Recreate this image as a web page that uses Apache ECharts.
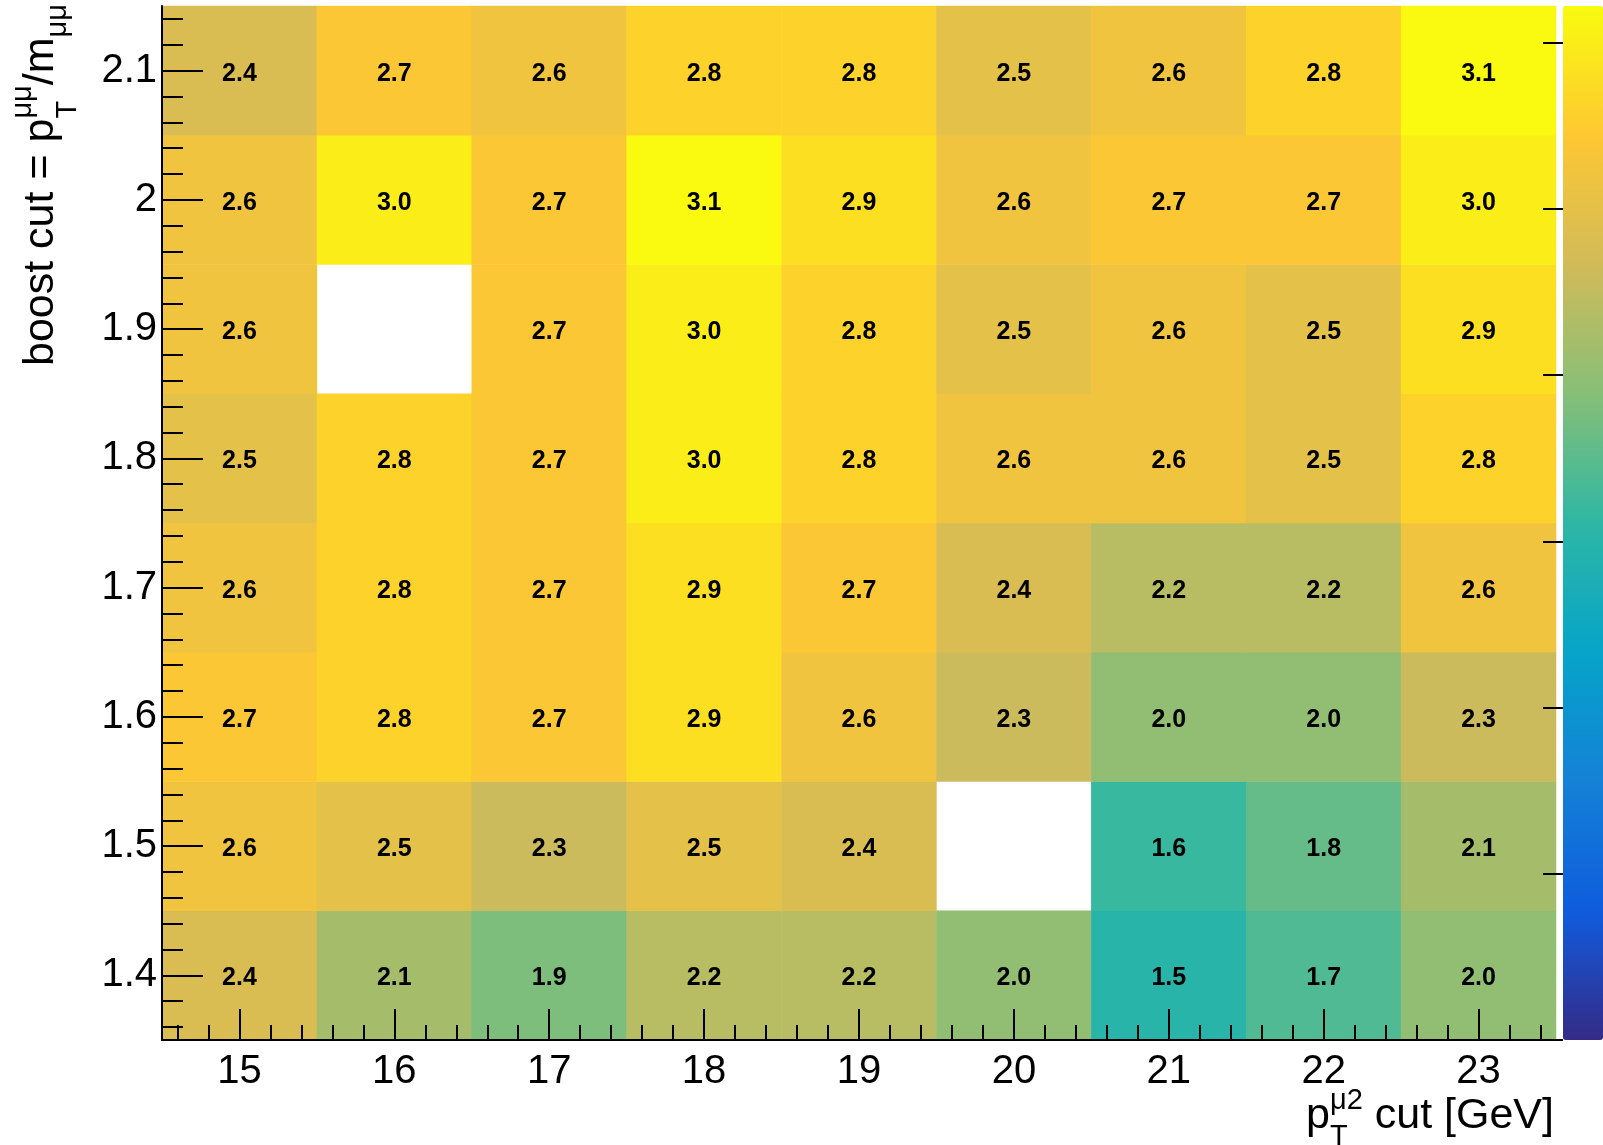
<!DOCTYPE html>
<html><head><meta charset="utf-8">
<script src="https://cdn.jsdelivr.net/npm/echarts@6/dist/echarts.min.js"></script>
<style>html,body{margin:0;padding:0;background:#fff}#c{width:1603px;height:1145px}</style>
</head><body><div id="c"></div>
<script>
// ---- data ----
const xCategories = ['15','16','17','18','19','20','21','22','23'];
const yCategories = ['1.4','1.5','1.6','1.7','1.8','1.9','2','2.1'];
// rows from bottom (boost 1.4) to top (boost 2.1); null = empty bin
const row14 = [2.4, 2.1, 1.9, 2.2, 2.2, 2.0, 1.5, 1.7, 2.0];
const row15 = [2.6, 2.5, 2.3, 2.5, 2.4, null, 1.6, 1.8, 2.1];
const row16 = [2.7, 2.8, 2.7, 2.9, 2.6, 2.3, 2.0, 2.0, 2.3];
const row17 = [2.6, 2.8, 2.7, 2.9, 2.7, 2.4, 2.2, 2.2, 2.6];
const row18 = [2.5, 2.8, 2.7, 3.0, 2.8, 2.6, 2.6, 2.5, 2.8];
const row19 = [2.6, null, 2.7, 3.0, 2.8, 2.5, 2.6, 2.5, 2.9];
const row20 = [2.6, 3.0, 2.7, 3.1, 2.9, 2.6, 2.7, 2.7, 3.0];
const row21 = [2.4, 2.7, 2.6, 2.8, 2.8, 2.5, 2.6, 2.8, 3.1];
const rows = [row14, row15, row16, row17, row18, row19, row20, row21];
const zMin = 0, zMax = 3.11;
const paletteTickValues = [0, 0.5, 1, 1.5, 2, 2.5, 3];
// ROOT kBird palette stops
const birdPalette = ['#352a87','#0f5cdd','#1481d6','#06a4ca','#2eb7a4','#87bf77','#d1bb59','#fec832','#f9fb0e'];

// fine tick grids (0.2 GeV steps on x, 0.02 steps on y)
const xTickCats = []; for (let i = 0; i < 45; i++) xTickCats.push(String((146 + 2 * i) / 10));
const yTickCats = []; for (let i = 0; i < 40; i++) yTickCats.push(String((136 + 2 * i) / 100));
const xMajor = (i, v) => Number.isInteger(Number(v));
const yMajor = (i, v) => Math.round(Number(v) * 100) % 10 === 0;

const heatData = [];
rows.forEach((r, yi) => r.forEach((v, xi) => { if (v !== null) heatData.push([xi, yi, v]); }));

// ---- text helpers for titles with sub/superscripts ----
const FONT = '"Liberation Sans", Arial, Helvetica, sans-serif';
const mctx = document.createElement('canvas').getContext('2d');
function tw(t, size) { mctx.font = size + 'px ' + FONT; return mctx.measureText(t).width; }
function mk(t, size, x, base) {
  return { type: 'text', x: x, y: base - 0.3465 * size,
    style: { text: t, font: size + 'px ' + FONT, fill: '#000', align: 'left', verticalAlign: 'middle' } };
}
function buildRich(parts) {
  let x = 0; const els = [];
  parts.forEach(p => {
    if (p.stack) {
      let w = 0;
      p.stack.forEach(s => { els.push(mk(s.t, s.size, x, s.dy)); w = Math.max(w, tw(s.t, s.size)); });
      x += w;
    } else { els.push(mk(p.t, p.size, x, p.dy || 0)); x += tw(p.t, p.size); }
  });
  return { els, width: x };
}
const TF = 43, SF = 29;
const xTitle = buildRich([
  { t: 'p', size: TF },
  { stack: [{ t: '\u03bc2', size: SF, dy: -20 }, { t: 'T', size: SF, dy: 16 }] },
  { t: ' cut [GeV]', size: TF }
]);
const yTitle = buildRich([
  { t: 'boost cut = p', size: TF },
  { stack: [{ t: '\u03bc\u03bc', size: SF, dy: -23 }, { t: 'T', size: SF, dy: 22 }] },
  { t: '/m', size: TF },
  { t: '\u03bc\u03bc', size: SF, dy: 12 }
]);

const G = { left: 162, top: 6, width: 1394, height: 1034 };
const barTop = 6, barH = 1034;
const chart = echarts.init(document.getElementById('c'), null, { renderer: 'canvas' });
const tickLine = { color: '#000', width: 2 };
chart.setOption({
  animation: false,
  backgroundColor: '#fff',
  grid: [
    Object.assign({}, G),
    Object.assign({}, G),
    Object.assign({}, G),
    { left: 1563, top: barTop, width: 40, height: barH }
  ],
  xAxis: [
    { gridIndex: 0, type: 'category', data: xCategories, show: false },
    { gridIndex: 1, type: 'category', data: xTickCats, position: 'bottom', z: 10,
      axisLine: { show: true, lineStyle: tickLine },
      axisTick: { show: true, inside: true, alignWithLabel: true, length: 31, interval: xMajor, lineStyle: tickLine },
      axisLabel: { show: true, interval: xMajor, margin: 12, fontSize: 40, color: '#000', fontFamily: FONT },
      splitLine: { show: false } },
    { gridIndex: 2, type: 'category', data: xTickCats, position: 'bottom', z: 10,
      axisLine: { show: false },
      axisTick: { show: true, inside: true, alignWithLabel: true, length: 15, interval: 0, lineStyle: tickLine },
      axisLabel: { show: false }, splitLine: { show: false } },
    { gridIndex: 3, type: 'value', show: false, min: 0, max: 1 }
  ],
  yAxis: [
    { gridIndex: 0, type: 'category', data: yCategories, show: false },
    { gridIndex: 1, type: 'category', data: yTickCats, position: 'left', z: 10,
      axisLine: { show: true, lineStyle: tickLine },
      axisTick: { show: true, inside: true, alignWithLabel: true, length: 41, interval: yMajor, lineStyle: tickLine },
      axisLabel: { show: true, interval: yMajor, margin: 5, fontSize: 40, color: '#000', fontFamily: FONT },
      splitLine: { show: false } },
    { gridIndex: 2, type: 'category', data: yTickCats, position: 'left', z: 10,
      axisLine: { show: false },
      axisTick: { show: true, inside: true, alignWithLabel: true, length: 21, interval: 0, lineStyle: tickLine },
      axisLabel: { show: false }, splitLine: { show: false } },
    { gridIndex: 3, type: 'value', min: zMin, max: zMax, position: 'right', z: 10,
      axisLine: { show: false },
      axisTick: { show: true, inside: true, length: 20, lineStyle: tickLine, customValues: paletteTickValues },
      axisLabel: { show: false, customValues: paletteTickValues }, splitLine: { show: false } }
  ],
  visualMap: {
    type: 'continuous', seriesIndex: 0, min: zMin, max: zMax, calculable: false, hoverLink: false,
    orient: 'vertical', left: 1563, top: barTop, itemWidth: 40, itemHeight: barH, padding: 0,
    inRange: { color: birdPalette }
  },
  series: [{
    type: 'heatmap', xAxisIndex: 0, yAxisIndex: 0, data: heatData,
    label: { show: true, color: '#000', fontWeight: 'bold', fontSize: 25, fontFamily: FONT, offset: [0, 3],
      formatter: p => p.value[2].toFixed(1) },
    emphasis: { disabled: true }
  }],
  graphic: [
    { type: 'group', x: 1554 - xTitle.width, y: 1131, children: xTitle.els },
    { type: 'group', x: 56, y: 4 + yTitle.width, rotation: Math.PI / 2, children: yTitle.els }
  ]
});
</script>
</body></html>
